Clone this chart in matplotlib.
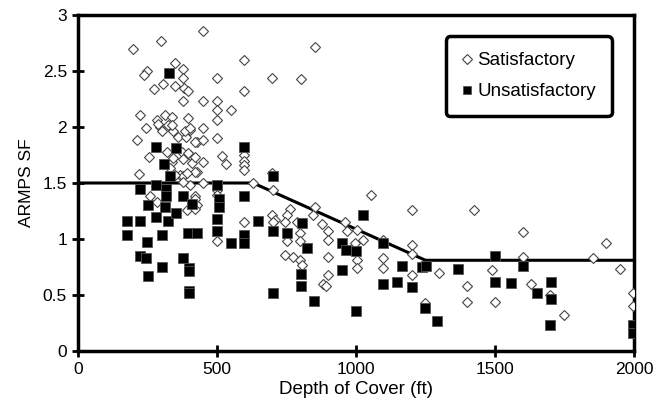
import matplotlib
matplotlib.use("Agg")
import matplotlib.pyplot as plt

plt.rcParams['font.family'] = ['Liberation Sans', 'DejaVu Sans']

# Satisfactory cases (depth of cover ft, ARMPS SF)
sat_depth = [199, 298, 451, 598, 699, 802, 852, 247, 238, 349, 376, 376, 307, 349,
             381, 397, 273, 379, 451, 499, 499, 499, 499, 550, 598, 223, 243, 285,
             313, 337, 295, 301, 325, 343, 361, 397, 403, 451, 388, 427, 211, 499,
             403, 373, 257, 337, 331, 409, 451, 517, 531, 598, 598, 598, 598, 427,
             221, 699, 367, 379, 403, 451, 631, 700, 285, 421, 427, 499, 499, 598,
             499, 697, 709, 1053, 1200, 853, 763, 750, 702, 745, 787, 846, 876, 900,
             900, 799, 799, 750, 745, 775, 799, 805, 960, 969, 1002, 1026, 996, 1098,
             1098, 1098, 1002, 1002, 900, 900, 882, 892, 1200, 1200, 1200, 1248, 1299,
             1398, 1400, 1424, 1600, 1600, 1488, 1500, 1628, 1698, 1749, 1851, 1899,
             1950, 1998, 1998, 289, 337, 385, 403, 421, 451, 319, 343, 379, 397, 421,
             421, 391, 379, 349, 259, 421, 391, 421]
sat_sf = [2.70, 2.77, 2.86, 2.60, 2.44, 2.43, 2.71, 2.50, 2.46, 2.57, 2.52, 2.44, 2.38,
          2.37, 2.35, 2.32, 2.34, 2.23, 2.23, 2.44, 2.23, 2.15, 2.06, 2.15, 2.32, 2.11,
          1.99, 2.06, 2.11, 2.09, 2.00, 1.96, 2.02, 1.96, 1.91, 2.08, 1.97, 1.99, 1.91,
          1.87, 1.88, 1.90, 1.75, 1.78, 1.73, 1.69, 1.63, 1.68, 1.69, 1.74, 1.67, 1.75,
          1.70, 1.66, 1.62, 1.60, 1.58, 1.59, 1.57, 1.56, 1.48, 1.50, 1.50, 1.44, 1.33,
          1.38, 1.30, 1.44, 1.39, 1.15, 0.98, 1.21, 1.17, 1.39, 1.26, 1.29, 1.27, 1.21,
          1.15, 1.15, 1.15, 1.21, 1.13, 1.07, 0.99, 1.05, 0.98, 0.98, 0.86, 0.84, 0.81,
          0.77, 1.15, 1.07, 1.08, 0.99, 0.96, 0.99, 0.83, 0.74, 0.81, 0.74, 0.84, 0.68,
          0.60, 0.58, 0.95, 0.87, 0.68, 0.43, 0.70, 0.58, 0.44, 1.26, 1.06, 0.84, 0.72,
          0.44, 0.60, 0.50, 0.32, 0.83, 0.96, 0.73, 0.52, 0.40, 2.03, 2.02, 1.96, 1.99,
          1.87, 1.88, 1.78, 1.72, 1.71, 1.77, 1.73, 1.60, 1.59, 1.51, 1.57, 1.38, 1.36,
          1.26, 1.27]

# Unsatisfactory cases
unsat_depth = [327, 281, 351, 310, 598, 331, 700, 223, 281, 317, 317, 379, 409, 499,
               508, 508, 499, 499, 598, 598, 598, 550, 649, 700, 700, 250, 281, 325,
               351, 175, 223, 175, 301, 394, 427, 247, 223, 245, 301, 376, 400, 400,
               250, 400, 400, 805, 750, 825, 801, 801, 849, 1026, 948, 963, 1000, 948,
               1000, 1098, 1098, 1149, 1167, 1200, 1236, 1250, 1248, 1290, 1366, 1500,
               1600, 1500, 1558, 1650, 1700, 1700, 1698, 1998, 1998, 313]
unsat_sf = [2.48, 1.82, 1.81, 1.67, 1.82, 1.56, 1.56, 1.45, 1.48, 1.45, 1.38, 1.38, 1.31,
            1.48, 1.36, 1.29, 1.18, 1.07, 1.38, 1.04, 0.96, 0.96, 1.16, 1.07, 0.52, 1.30,
            1.20, 1.16, 1.23, 1.16, 1.16, 1.04, 1.04, 1.05, 1.05, 0.97, 0.85, 0.83, 0.75,
            0.83, 0.74, 0.71, 0.67, 0.54, 0.52, 1.14, 1.05, 0.92, 0.69, 0.58, 0.45, 1.21,
            0.96, 0.90, 0.89, 0.72, 0.36, 0.96, 0.60, 0.62, 0.76, 0.57, 0.75, 0.76, 0.38,
            0.27, 0.73, 0.85, 0.76, 0.62, 0.61, 0.52, 0.62, 0.46, 0.23, 0.23, 0.16, 1.29]

# Suggested stability factor guideline
line_depth = [0, 630, 1250, 2000]
line_sf = [1.5, 1.5, 0.81, 0.81]

fig = plt.figure(figsize=(6.57, 4.15), dpi=100)
ax = fig.add_axes([78 / 657, 64 / 415, 556 / 657, 336 / 415])

ax.plot(line_depth, line_sf, color='black', linewidth=2.2, zorder=2)
ax.plot(sat_depth, sat_sf, linestyle='none', marker='D', markersize=5.6,
        markerfacecolor='white', markeredgecolor='#444444', markeredgewidth=0.8,
        label='Satisfactory', zorder=3)
ax.plot(unsat_depth, unsat_sf, linestyle='none', marker='s', markersize=7,
        markerfacecolor='black', markeredgecolor='#555555', markeredgewidth=0.6,
        label='Unsatisfactory', zorder=4)

ax.set_xlim(0, 2000)
ax.set_ylim(0, 3)
ax.set_xticks([0, 500, 1000, 1500, 2000])
ax.set_yticks([0, 0.5, 1, 1.5, 2, 2.5, 3])
ax.set_yticklabels(['0', '0.5', '1', '1.5', '2', '2.5', '3'])
ax.tick_params(direction='inout', length=8, width=2, labelsize=12.5, pad=4)

for side in ['top', 'bottom', 'right', 'left']:
    ax.spines[side].set_linewidth(2.5)
    ax.spines[side].set_color('black')

ax.set_xlabel('Depth of Cover (ft)', fontsize=13.5, labelpad=3)
ax.set_ylabel('ARMPS SF', fontsize=12.5, labelpad=6)

leg = ax.legend(loc='upper left', bbox_to_anchor=(0.661, 0.937), borderaxespad=0,
                fontsize=13.5, frameon=True, fancybox=True, edgecolor='black',
                handlelength=0.6, handletextpad=0.25, borderpad=0.85,
                labelspacing=0.75, markerscale=0.9)
leg.get_frame().set_linewidth(2.5)
leg.get_frame().set_boxstyle('round', pad=0, rounding_size=0.25)
leg.get_frame().set_alpha(1)

fig.savefig('out.png', dpi=100)
